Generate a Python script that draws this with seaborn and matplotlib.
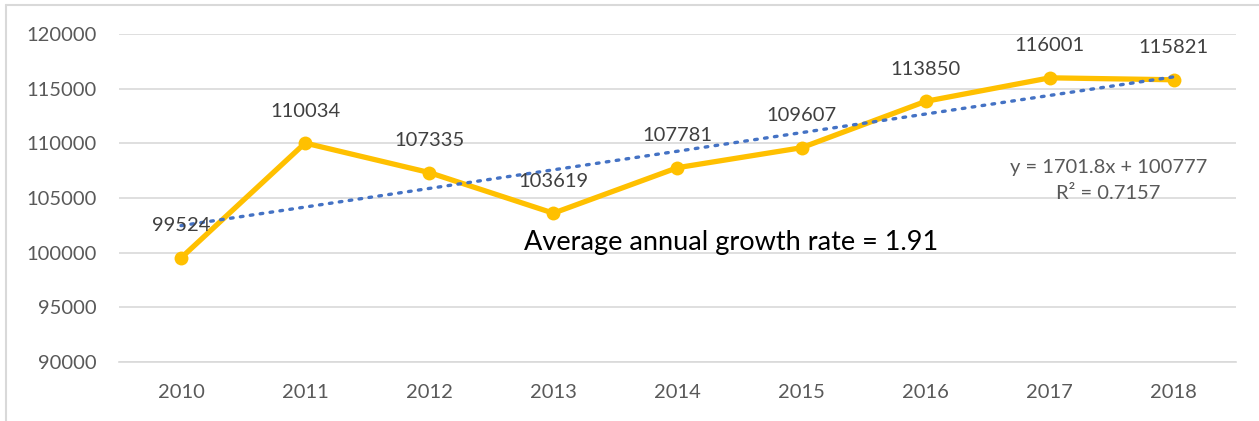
import numpy as np
import pandas as pd
import seaborn as sns
import matplotlib.pyplot as plt
from matplotlib.lines import Line2D

years = ["2010", "2011", "2012", "2013", "2014", "2015", "2016", "2017", "2018"]
values = [99524, 110034, 107335, 103619, 107781, 109607, 113850, 116001, 115821]
y_ticks = [90000, 95000, 100000, 105000, 110000, 115000, 120000]
trend_label = "y = 1701.8x + 100777"
r2_label = "R² = 0.7157"
note = "Average annual growth rate = 1.91"

sns.set_theme(style="white")
plt.rcParams["font.family"] = ["Lato", "DejaVu Sans"]

df = pd.DataFrame({"year": years, "value": values})
df["pos"] = np.arange(len(years))

fig = plt.figure(figsize=(12.59, 4.21), dpi=100)
ax = fig.add_axes([0.0945, 0.140, 0.8872, 0.779])

gold = "#FFC000"
blue = "#4472C4"
grey_text = "#595959"
fs = 14.5

# linear trendline fitted on x = 1..n
coef = np.polyfit(df["pos"] + 1, df["value"], 1)
trend = np.polyval(coef, df["pos"] + 1)

sns.lineplot(data=df, x="pos", y="value", color=gold, linewidth=3.8,
             marker="o", markersize=10, markeredgewidth=0, ax=ax, zorder=3)
ax.plot(df["pos"], trend, color=blue, linestyle=(0, (0.8, 2.2)),
        linewidth=2.4, dash_capstyle="round", zorder=4)

for p, v in zip(df["pos"], df["value"]):
    ax.annotate(f"{v}", (p, v), xytext=(0, 23), textcoords="offset points",
                ha="center", va="center", fontsize=fs, color="#404040", zorder=5)

ax.set_xlim(-0.5, len(years) - 0.5)
ax.set_ylim(90000, 120000)
ax.set_yticks(y_ticks)
ax.set_yticklabels([str(t) for t in y_ticks])
ax.set_xticks(df["pos"])
ax.set_xticklabels(years)
ax.tick_params(axis="both", labelsize=fs, colors=grey_text, length=0)
ax.tick_params(axis="y", pad=16)
ax.tick_params(axis="x", pad=16)
ax.set_xlabel("")
ax.set_ylabel("")
ax.grid(axis="y", color="#D9D9D9", linewidth=1.2)
for s in ax.spines.values():
    s.set_visible(False)
ax.spines["bottom"].set_visible(True)
ax.spines["bottom"].set_color("#D9D9D9")
ax.spines["bottom"].set_linewidth(1.2)

ax.text(7.47, 107825, trend_label, ha="center", va="center", fontsize=fs, color=grey_text)
ax.text(7.47, 105450, r2_label, ha="center", va="center", fontsize=fs, color=grey_text)
ax.text(2.76, 100970, note, ha="left", va="center", fontsize=19.5, color="black")

# chart frame edges
fig.add_artist(Line2D([0.005, 1.0], [1 - 5 / 421, 1 - 5 / 421], color="#D9D9D9", linewidth=1.5))
fig.add_artist(Line2D([6 / 1259, 6 / 1259], [0, 1 - 5 / 421], color="#D9D9D9", linewidth=1.5))

fig.savefig("out.png", dpi=100)
